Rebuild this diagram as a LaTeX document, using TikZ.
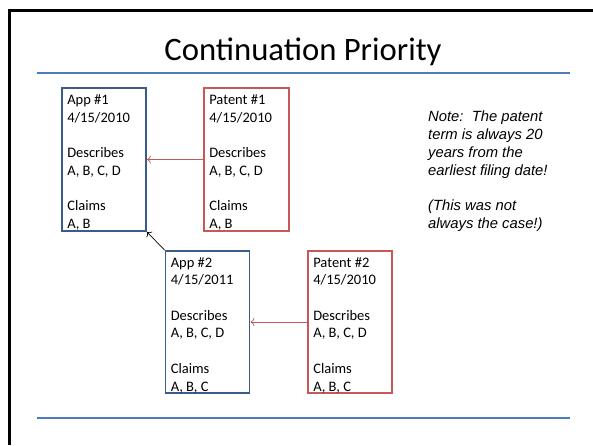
\documentclass[tikz,border=0pt]{standalone}
\usepackage{fontspec}
\setmainfont{Carlito}
\newfontfamily\notefont{Liberation Sans}
\usepackage{tikz}
\usetikzlibrary{positioning,arrows.meta}
\usepackage{xcolor}
\definecolor{appblue}{RGB}{56,93,138}
\definecolor{patred}{RGB}{200,88,86}
\definecolor{rule}{RGB}{74,126,187}

\begin{document}
\begin{tikzpicture}[x=1pt, y=-1pt,
 every text node part/.style={align=left},
appbox/.style={rectangle, inner sep=0pt, minimum width=84pt, minimum height=143pt, draw=appblue, line width=1.8pt},
patbox/.style={rectangle, inner sep=0pt, minimum width=85pt, minimum height=143pt, draw=patred, line width=1.8pt},
boxtext/.style={inner sep=0pt, font=\fontsize{14.5}{17.7}\selectfont},
arrow/.style={-{To[length=4pt, width=8pt]}, line width=0.7pt},
hline/.style={draw=rule, line width=1.2pt}]

	\useasboundingbox (0,0) rectangle (593,445);
	\draw[line width=3pt] (593,10.5) -- (9.5,10.5) -- (9.5,445);

	\node[inner sep=0pt, anchor=base, font=\fontsize{32.7}{36}\selectfont] (title) at (303,60) {Continuation Priority};
	\coordinate (topl) at (37,73);
	\coordinate (topr) at (570,73);
	\coordinate (botl) at (37,418);
	\coordinate (botr) at (570,418);
	\draw[hline] (topl) -- (topr);
	\draw[hline] (botl) -- (botr);

	\node[appbox] (app1) at (104,159.5) {};
	\node[patbox] (pat1) at (246.5,159.5) {};
	\node[appbox, minimum height=142pt] (app2) at (207.5,322) {};
	\node[patbox, minimum width=84pt, minimum height=142pt] (pat2) at (350,322) {};

	\node[boxtext, below right=7.5pt and 6pt of app1.north west] (app1txt) {App \#1\\ 4/15/2010\\[17.7pt] Describes\\ A, B, C, D\\[17.7pt] Claims\\ A, B};
	\node[boxtext, below right=7.5pt and 6pt of pat1.north west] (pat1txt) {Patent \#1\\ 4/15/2010\\[17.7pt] Describes\\ A, B, C, D\\[17.7pt] Claims\\ A, B};
	\node[boxtext, below right=7pt and 6pt of app2.north west] (app2txt) {App \#2\\ 4/15/2011\\[17.7pt] Describes\\ A, B, C, D\\[17.7pt] Claims\\ A, B, C};
	\node[boxtext, below right=7pt and 6pt of pat2.north west] (pat2txt) {Patent \#2\\ 4/15/2010\\[17.7pt] Describes\\ A, B, C, D\\[17.7pt] Claims\\ A, B, C};

	\node[inner sep=0pt, anchor=north west, font=\notefont\itshape\fontsize{14.8}{17.7}\selectfont] (note) at (428,111) {Note:\ \ The patent\\ term is always 20\\ years from the\\ earliest filing date!\\[17.7pt] (This was not\\ always the case!)};

	\draw (pat1.west) edge [arrow, patred] (app1.east);
	\draw (pat2.west) edge [arrow, patred] (app2.east);
	\draw (app2.north west) edge [arrow] (app1.south east);
\end{tikzpicture}
\end{document}
